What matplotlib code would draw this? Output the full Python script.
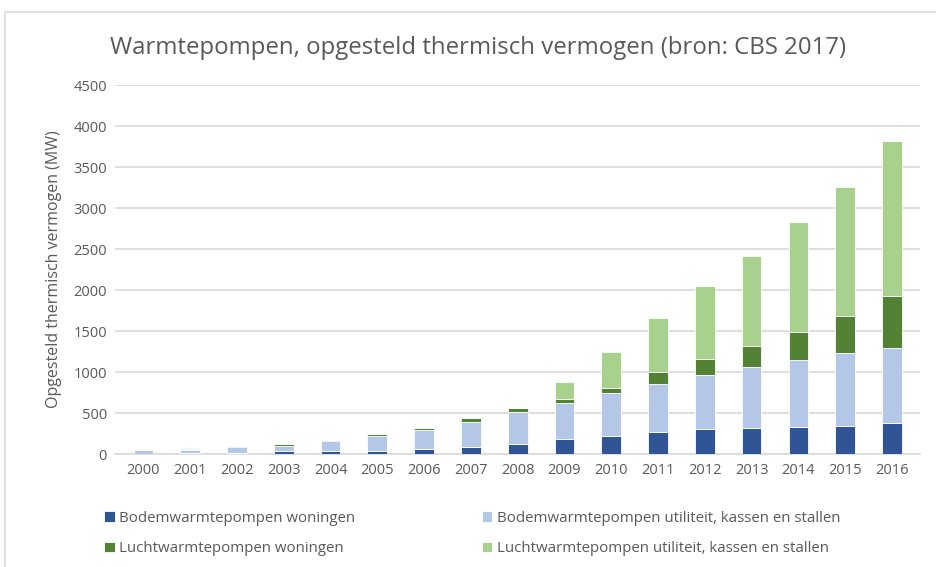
import matplotlib
matplotlib.use("Agg")
import matplotlib.pyplot as plt
from matplotlib.patches import Rectangle
import numpy as np

years = [str(y) for y in range(2000, 2017)]
bodem_woningen = [5, 15, 20, 33, 33, 42, 63, 88, 125, 180, 224, 273, 306, 318, 330, 343, 375]
bodem_utiliteit = [45, 40, 68, 67, 130, 175, 237, 308, 383, 448, 519, 584, 657, 747, 821, 885, 922]
lucht_woningen = [5, 12, 12, 22, 4, 25, 25, 42, 50, 49, 69, 139, 196, 257, 342, 453, 629]
lucht_utiliteit = [12, 12, 4, 8, 3, 8, 5, 7, 2, 204, 428, 669, 889, 1097, 1343, 1579, 1893]

labels = ["Bodemwarmtepompen woningen",
          "Bodemwarmtepompen utiliteit, kassen en stallen",
          "Luchtwarmtepompen woningen",
          "Luchtwarmtepompen utiliteit, kassen en stallen"]
colors = ["#2F5597", "#B4C7E7", "#548235", "#A9D18E"]

plt.rcParams['font.family'] = ['Open Sans', 'DejaVu Sans']
text_color = "#595959"

fig = plt.figure(figsize=(9.37, 5.67), dpi=100)
ax = fig.add_axes([0.123, 0.199, 0.859, 0.651])

x = np.arange(len(years))
bottom = np.zeros(len(years))
handles = []
for vals, lab, col in zip([bodem_woningen, bodem_utiliteit, lucht_woningen, lucht_utiliteit], labels, colors):
    b = ax.bar(x, vals, width=0.42, bottom=bottom, color=col, edgecolor="white",
               linewidth=0.6, label=lab, zorder=3)
    handles.append(b)
    bottom += np.array(vals)

ax.set_xlim(-0.6, len(years) - 0.4)
ax.set_ylim(0, 4500)
ax.set_yticks(range(0, 4501, 500))
ax.set_xticks(x)
ax.set_xticklabels(years)
ax.grid(axis="y", color="#D9D9D9", linewidth=1.2, zorder=0)
for s in ["top", "right", "left"]:
    ax.spines[s].set_visible(False)
ax.spines["bottom"].set_color("#D9D9D9")
ax.spines["bottom"].set_linewidth(1.2)
ax.tick_params(axis="both", length=0, colors=text_color, labelsize=10.5, pad=6)
ax.set_ylabel("Opgesteld thermisch vermogen (MW)", color=text_color, fontsize=11.5, labelpad=8)

fig.text(0.51, 0.916, "Warmtepompen, opgesteld thermisch vermogen (bron: CBS 2017)",
         ha="center", va="center", fontsize=17.3, color=text_color)

order = [0, 2, 1, 3]
fig.legend([handles[i] for i in order], [labels[i] for i in order], ncol=2,
           loc="upper left", bbox_to_anchor=(0.105, 0.11), frameon=False,
           fontsize=10.8, labelcolor=text_color, handlelength=0.7, handleheight=0.7,
           handletextpad=0.3, columnspacing=8.4, labelspacing=1.05, borderaxespad=0)

fig.patches.append(Rectangle((0.005, -0.01), 1.0, 0.989, transform=fig.transFigure,
                             fill=False, edgecolor="#D9D9D9", linewidth=1.2))

fig.savefig("out.png", dpi=100)
